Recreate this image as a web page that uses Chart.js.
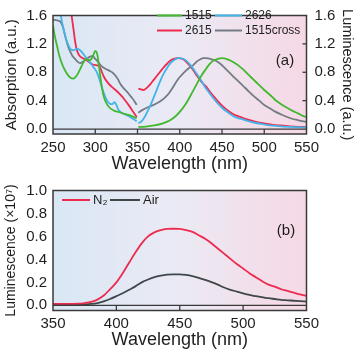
<!DOCTYPE html>
<html><head><meta charset="utf-8">
<script src="https://cdn.jsdelivr.net/npm/chart.js@4/dist/chart.umd.min.js"></script>
<style>
html,body{margin:0;padding:0;background:#fff;width:355px;height:355px;overflow:hidden}
canvas{position:absolute;left:0}
#c1{top:0}
#c2{top:177px}
</style></head><body>
<canvas id="c1" width="355" height="177"></canvas>
<canvas id="c2" width="355" height="178"></canvas>
<script>
// ---------- Panel (a) data ----------
const sampleNames = ['1515', '2626', '2615', '1515cross'];
const sampleColors = ['#41b82d', '#43b4ea', '#ee2a4f', '#737c84'];

const abs1515X = [250,252,255,258,262,266,270,274,278,282,286,289,292,295,298,300,302,304,306,308,310,313,317,322,328,335,342,349];
const abs1515Y = [1.46,1.32,1.16,1.01,0.88,0.79,0.73,0.71,0.75,0.84,0.94,0.99,0.97,0.98,1.05,1.10,1.07,0.93,0.74,0.58,0.46,0.37,0.30,0.26,0.24,0.21,0.19,0.15];
const em1515X = [351,360,370,380,388,395,402,408,415,420,425,430,435,440,445,450,455,460,465,470,475,480,487,494,500,507,513,520,527,533,540,545,550];
const em1515Y = [0.03,0.035,0.05,0.08,0.12,0.18,0.27,0.37,0.52,0.63,0.74,0.83,0.91,0.965,0.99,1.0,0.99,0.965,0.93,0.89,0.84,0.78,0.70,0.62,0.55,0.48,0.41,0.35,0.30,0.26,0.22,0.19,0.17];

const abs2626X = [257,260,263,266,270,274,279,283,287,291,295,298,302,305,308,311,314,317,320,323,325,327,330,335,340,345,349];
const abs2626Y = [1.75,1.55,1.38,1.25,1.14,1.11,1.13,1.10,1.04,0.98,0.92,0.87,0.80,0.70,0.58,0.48,0.40,0.36,0.35,0.38,0.34,0.28,0.24,0.21,0.18,0.14,0.11];
const em2626X = [351,355,359,364,369,373,377,381,385,389,393,397,400,404,408,412,416,420,425,430,435,440,445,450,455,460,465,470,476,483,490,500,510,520,535,550];
const em2626Y = [0.08,0.11,0.18,0.30,0.44,0.56,0.68,0.78,0.86,0.93,0.97,0.995,1.0,0.99,0.96,0.91,0.85,0.78,0.69,0.59,0.51,0.43,0.36,0.30,0.25,0.21,0.17,0.15,0.13,0.105,0.085,0.065,0.048,0.038,0.028,0.02];

const abs2615X = [270,272,274,276,278,281,285,289,293,297,301,305,308,310,315,320,325,330,335,340,345,349];
const abs2615Y = [1.8,1.6,1.43,1.25,1.12,1.04,1.0,0.98,0.94,0.91,0.90,0.88,0.80,0.74,0.65,0.59,0.54,0.48,0.41,0.33,0.24,0.17];
const em2615X = [351,354,357,361,365,369,373,377,381,385,389,393,397,401,405,409,413,417,421,426,431,436,441,446,451,456,462,468,475,483,490,500,510,520,535,550];
const em2615Y = [0.57,0.56,0.55,0.58,0.63,0.69,0.75,0.81,0.87,0.92,0.965,0.99,1.0,0.995,0.975,0.93,0.88,0.81,0.74,0.66,0.60,0.52,0.45,0.38,0.32,0.27,0.22,0.185,0.155,0.125,0.10,0.08,0.06,0.05,0.035,0.027];

const abs1515crossX = [250,255,258,260,262,264,266,268,270,273,276,279,282,286,290,294,297,300,303,307,312,317,321,324,327,330,334,338,342,346,349];
const abs1515crossY = [1.54,1.53,1.52,1.49,1.43,1.33,1.24,1.16,1.10,1.03,0.99,0.95,0.93,0.95,0.99,1.02,1.03,0.99,0.95,0.89,0.85,0.82,0.79,0.75,0.70,0.63,0.57,0.52,0.46,0.40,0.34];
const em1515crossX = [351,356,361,365,369,374,379,383,387,391,395,399,403,407,411,416,420,424,428,432,436,442,448,454,460,466,474,480,487,494,500,507,513,520,527,533,540,545,550];
const em1515crossY = [0.23,0.27,0.30,0.32,0.34,0.37,0.41,0.45,0.50,0.57,0.65,0.72,0.77,0.82,0.86,0.90,0.95,0.98,1.0,1.0,0.99,0.965,0.92,0.85,0.78,0.71,0.62,0.55,0.47,0.40,0.34,0.29,0.245,0.205,0.17,0.145,0.125,0.11,0.10];

const xTicksA = [250,300,350,400,450,500,550];
const yTicksA = [0.0,0.4,0.8,1.2,1.6];

// ---------- Panel (b) data ----------
const gasNames = ['N\u2082', 'Air'];
const gasColors = ['#ee2a4f', '#3e4848'];
const gasX = [350,360,370,375,380,385,390,395,400,405,410,415,420,425,430,435,440,445,450,455,460,465,470,475,480,485,490,495,500,505,510,515,520,525,530,535,540,545,550];
const n2Y = [0.012,0.012,0.014,0.02,0.03,0.05,0.085,0.14,0.20,0.28,0.37,0.46,0.54,0.60,0.635,0.655,0.665,0.667,0.665,0.655,0.64,0.61,0.58,0.54,0.495,0.45,0.405,0.36,0.32,0.28,0.245,0.21,0.18,0.163,0.14,0.125,0.11,0.095,0.083];
const airY = [0.005,0.005,0.006,0.008,0.012,0.02,0.035,0.055,0.08,0.105,0.135,0.165,0.20,0.225,0.245,0.258,0.267,0.27,0.27,0.265,0.255,0.24,0.222,0.202,0.18,0.155,0.135,0.12,0.105,0.092,0.08,0.071,0.062,0.055,0.048,0.044,0.04,0.036,0.033];
const xTicksB = [350,400,450,500,550];
const yTicksB = [0.0,0.2,0.4,0.6,0.8,1.0];

// ---------- helpers ----------
const FONT = "'Liberation Sans', Arial, sans-serif";
Chart.defaults.font.family = FONT;
Chart.defaults.color = '#1e1e1e';

function pts(xs, ys) { return xs.map((x, i) => ({x: x, y: ys[i]})); }
function joined(ax, ay, ex, ey) {
  return pts(ax, ay).concat([{x: (ax[ax.length-1] + ex[0]) / 2, y: null}], pts(ex, ey));
}

const panelPlugin = {
  id: 'panel',
  beforeDraw(chart) {
    const {ctx, chartArea: a} = chart;
    const g = ctx.createLinearGradient(a.left, 0, a.right, 0);
    g.addColorStop(0, '#d9e7f5');
    g.addColorStop(0.5, '#ebeaf4');
    g.addColorStop(1, '#f6d8e5');
    ctx.save();
    ctx.fillStyle = g;
    ctx.fillRect(a.left, a.top, a.right - a.left, a.bottom - a.top);
    ctx.restore();
  },
  afterDatasetsDraw(chart, args, opts) {
    const {ctx, chartArea: a} = chart;
    const xs = chart.scales.x, ys = chart.scales.y;
    const y0 = ys.getPixelForValue(0);
    ctx.save();
    ctx.strokeStyle = '#3a3a3a';
    ctx.lineWidth = 1.3;
    ctx.beginPath(); ctx.moveTo(a.left, y0); ctx.lineTo(a.right, y0); ctx.stroke();
    xs.ticks.forEach(t => {
      if (t.value > xs.min && t.value < xs.max) {
        const px = xs.getPixelForValue(t.value);
        ctx.beginPath(); ctx.moveTo(px, a.bottom); ctx.lineTo(px, y0); ctx.stroke();
      }
    });
    if (chart.scales.y2) {
      const r = chart.scales.y2;
      r.ticks.forEach(t => {
        if (t.value > 0 && t.value < r.max) {
          const py = r.getPixelForValue(t.value);
          ctx.beginPath(); ctx.moveTo(a.right, py); ctx.lineTo(a.right - 4, py); ctx.stroke();
        }
      });
    }
    ctx.lineWidth = 1.5;
    ctx.strokeRect(a.left, a.top, a.right - a.left, a.bottom - a.top);
    ctx.font = opts.legendFont;
    ctx.textBaseline = 'middle';
    ctx.textAlign = 'left';
    opts.legend.forEach(it => {
      const ds = chart.data.datasets[it.ds];
      ctx.strokeStyle = ds.borderColor;
      ctx.lineWidth = 2;
      ctx.beginPath(); ctx.moveTo(it.x0, it.y); ctx.lineTo(it.x1, it.y); ctx.stroke();
      ctx.fillStyle = '#1e1e1e';
      ctx.fillText(ds.label, it.x1 + 3, it.y + 0.5);
    });
    ctx.font = '15px ' + FONT;
    ctx.textAlign = 'center';
    ctx.fillText(opts.label, opts.lx, opts.ly);
    ctx.restore();
  }
};

const tickFont = {size: 15, family: FONT, lineHeight: 1};
const xTitleFont = {size: 18, family: FONT, lineHeight: 1};
const noGrid = {display: false, drawTicks: false, tickLength: 0};

// ---------- Chart (a) ----------
const absX = [abs1515X, abs2626X, abs2615X, abs1515crossX];
const absY = [abs1515Y, abs2626Y, abs2615Y, abs1515crossY];
const emX = [em1515X, em2626X, em2615X, em1515crossX];
const emY = [em1515Y, em2626Y, em2615Y, em1515crossY];
const order = [0, 1, 3, 2];

new Chart(document.getElementById('c1'), {
  type: 'line',
  data: {
    datasets: sampleNames.map((n, i) => ({
      label: n,
      data: joined(absX[i], absY[i], emX[i], emY[i]),
      borderColor: sampleColors[i],
      borderWidth: 1.8,
      pointRadius: 0,
      fill: false,
      spanGaps: false,
      cubicInterpolationMode: 'monotone',
      order: order[i],
      yAxisID: 'y'
    }))
  },
  options: {
    responsive: false, animation: false,
    layout: {padding: {top: 7, left: 0, right: 0, bottom: 0}},
    plugins: {
      legend: {display: false}, tooltip: {enabled: false},
      panel: {
        legendFont: '12px ' + FONT,
        legend: [
          {ds: 0, x0: 157, x1: 182, y: 15.5},
          {ds: 1, x0: 215, x1: 242, y: 15.5},
          {ds: 2, x0: 157, x1: 182, y: 30.5},
          {ds: 3, x0: 215, x1: 242, y: 30.5}
        ],
        label: '(a)', lx: 285, ly: 61
      }
    },
    scales: {
      x: {
        type: 'linear', min: 250, max: 550,
        afterBuildTicks: s => { s.ticks = xTicksA.map(v => ({value: v})); },
        ticks: {font: tickFont, padding: 6, maxRotation: 0, callback: v => String(v)},
        grid: noGrid, border: {display: false},
        title: {display: true, text: 'Wavelength (nm)', font: xTitleFont, padding: {top: 0, bottom: 4}},
        afterFit: s => { s.height = 43; }
      },
      y: {
        type: 'linear', position: 'left', min: -0.07, max: 1.6,
        afterBuildTicks: s => { s.ticks = yTicksA.map(v => ({value: v})); },
        ticks: {font: tickFont, padding: 6, callback: v => Number(v).toFixed(1)},
        grid: noGrid, border: {display: false},
        title: {display: true, text: 'Absorption (a.u.)', font: {size: 15, family: FONT, lineHeight: 1}, padding: {top: 4.5, bottom: 0}},
        afterFit: s => { s.width = 53; }
      },
      y2: {
        type: 'linear', position: 'right', min: -0.07, max: 1.6,
        afterBuildTicks: s => { s.ticks = yTicksA.map(v => ({value: v})); },
        ticks: {font: tickFont, padding: 8, callback: v => Number(v).toFixed(1)},
        grid: noGrid, border: {display: false},
        title: {display: true, text: 'Luminescence (a.u.)', font: {size: 14.5, family: FONT, lineHeight: 1}, padding: {top: 1, bottom: 0}},
        afterFit: s => { s.width = 48.5; }
      }
    }
  },
  plugins: [panelPlugin]
});

// ---------- Chart (b) ----------
const gasY = [n2Y, airY];
new Chart(document.getElementById('c2'), {
  type: 'line',
  data: {
    datasets: gasNames.map((n, i) => ({
      label: n,
      data: pts(gasX, gasY[i]),
      borderColor: gasColors[i],
      borderWidth: 1.8,
      pointRadius: 0,
      fill: false,
      cubicInterpolationMode: 'monotone'
    }))
  },
  options: {
    responsive: false, animation: false,
    layout: {padding: {top: 7.5, left: 0, right: 48.5, bottom: 0}},
    plugins: {
      legend: {display: false}, tooltip: {enabled: false},
      panel: {
        legendFont: '13px ' + FONT,
        legend: [
          {ds: 0, x0: 62, x1: 90, y: 23},
          {ds: 1, x0: 110, x1: 140, y: 23}
        ],
        label: '(b)', lx: 286, ly: 54
      }
    },
    scales: {
      x: {
        type: 'linear', min: 350, max: 550,
        afterBuildTicks: s => { s.ticks = xTicksB.map(v => ({value: v})); },
        ticks: {font: tickFont, padding: 6, maxRotation: 0, callback: v => String(v)},
        grid: noGrid, border: {display: false},
        title: {display: true, text: 'Wavelength (nm)', font: xTitleFont, padding: {top: 0, bottom: 5.5}},
        afterFit: s => { s.height = 44.5; }
      },
      y: {
        type: 'linear', position: 'left', min: -0.045, max: 1.0,
        afterBuildTicks: s => { s.ticks = yTicksB.map(v => ({value: v})); },
        ticks: {font: tickFont, padding: 6, callback: v => Number(v).toFixed(1)},
        grid: noGrid, border: {display: false},
        title: {display: true, text: 'Luminescence (\u00d710\u2077)', font: {size: 14, family: FONT, lineHeight: 1}, padding: {top: 4.5, bottom: 0}},
        afterFit: s => { s.width = 53; }
      }
    }
  },
  plugins: [panelPlugin]
});
</script>
</body></html>
